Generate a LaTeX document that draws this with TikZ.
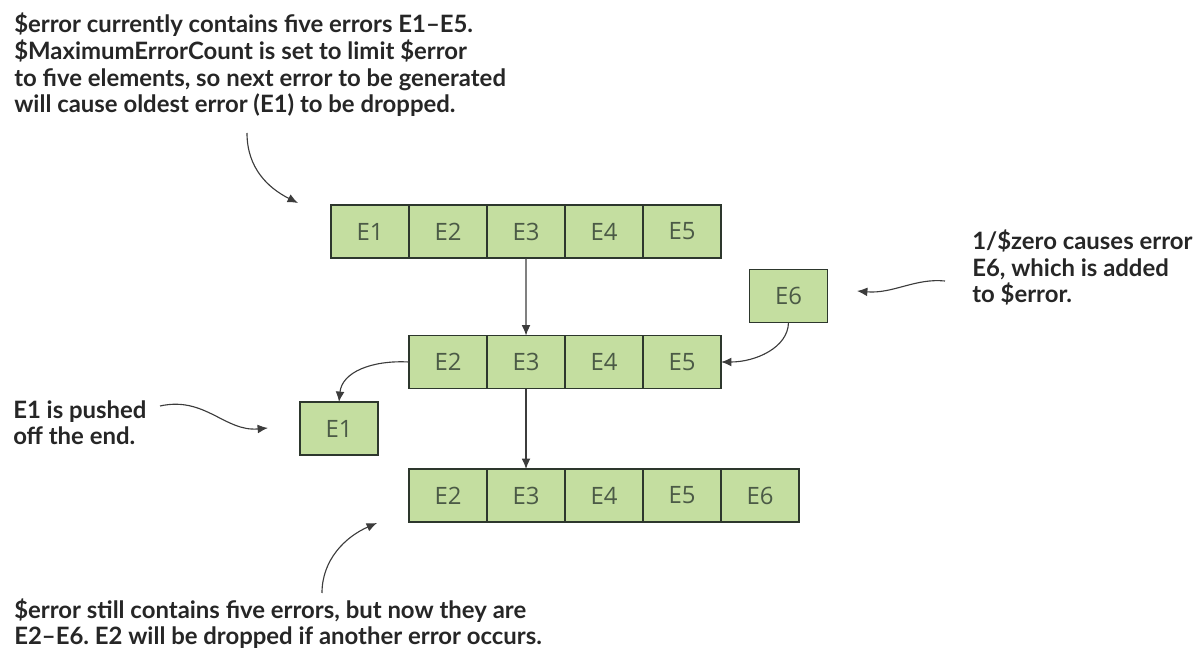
\documentclass[tikz,border=0pt]{standalone}
\usepackage{fontspec}
\setmainfont{Lato}
\newfontfamily\cellfont{Open Sans}
\usetikzlibrary{arrows.meta,positioning}
\definecolor{cellfill}{RGB}{196,222,160}
\definecolor{cellline}{RGB}{45,55,45}
\definecolor{celltext}{RGB}{75,90,70}
\definecolor{notetext}{RGB}{38,38,38}
\definecolor{arrowgray}{RGB}{60,60,60}
\frenchspacing

\begin{document}
\begin{tikzpicture}[x=0.025cm, y=-0.025cm,
  cell/.style={draw=cellline, line width=0.9pt, fill=cellfill, minimum width=1.95cm, minimum height=1.325cm, inner sep=0pt, outer sep=0pt, text=celltext, font=\cellfont\fontsize{17}{20}\selectfont},
  note/.style={align=left, anchor=base west, inner sep=0pt, text=notetext, font=\bfseries\fontsize{17}{19.1}\selectfont},
  link/.style={->, draw=arrowgray, line width=0.8pt},
  >={Latex[length=2.6mm,width=2.2mm]}, node distance=0pt]
\useasboundingbox (0,0) rectangle (1193,655);
% before: five errors
\node[cell] (a1) at (370,231.5) {E1};
\node[cell, right=of a1] (a2) {E2};
\node[cell, right=of a2] (a3) {E3};
\node[cell, right=of a3] (a4) {E4};
\node[cell, right=of a4] (a5) {E5};
% E1 dropped, E6 coming in
\node[cell] (b2) at (448,362) {E2};
\node[cell, right=of b2] (b3) {E3};
\node[cell, right=of b3] (b4) {E4};
\node[cell, right=of b4] (b5) {E5};
\node[cell] (new) at (788.5,296) {E6};
\node[cell] (old) at (339,428.5) {E1};
% after
\node[cell] (c2) at (448,495.5) {E2};
\node[cell, right=of c2] (c3) {E3};
\node[cell, right=of c3] (c4) {E4};
\node[cell, right=of c4] (c5) {E5};
\node[cell, right=of c5] (c6) {E6};
% notes (placed at the baseline of their last line)
\node[note] (fullnote) at (14,113) {\$error currently contains five errors E1--E5.\\ \$MaximumErrorCount is set to limit \$error\\ to five elements, so next error to be generated\\ will cause oldest error (E1) to be dropped.};
\node[note] (addnote) at (972,303) {1/\$zero causes error\\ E6, which is added\\ to \$error.};
\node[note] (pushnote) at (13,445) {E1 is pushed\\ off the end.};
\node[note] (afternote) at (14,645) {\$error still contains five errors, but now they are\\ E2--E6. E2 will be dropped if another error occurs.};
\coordinate (fulltail) at (247,133);
\coordinate (fulltip) at (298,203);
\coordinate (addtail) at (945,281);
\coordinate (addtip) at (857,291);
\coordinate (pushtail) at (160,406);
\coordinate (pushtip) at (268,428);
\coordinate (aftertail) at (322,593);
\coordinate (aftertip) at (377,523);
% connectors
\draw[link] (a3) -- (b3);
\draw[link] (b3) -- (c3);
\draw[link] (new.south) .. controls (788,348) and (755,362) .. (b5.east);
\draw[link] (b2.west) .. controls (372,360) and (342,372) .. (old.north);
\draw[link] (fulltail) .. controls (247,168) and (268,188) .. (fulltip);
\draw[link] (addtail) .. controls (915,278) and (893,294) .. (addtip);
\draw[link] (pushtail) .. controls (205,396) and (225,432) .. (pushtip);
\draw[link] (aftertail) .. controls (322,560) and (345,537) .. (aftertip);
\end{tikzpicture}
\end{document}
